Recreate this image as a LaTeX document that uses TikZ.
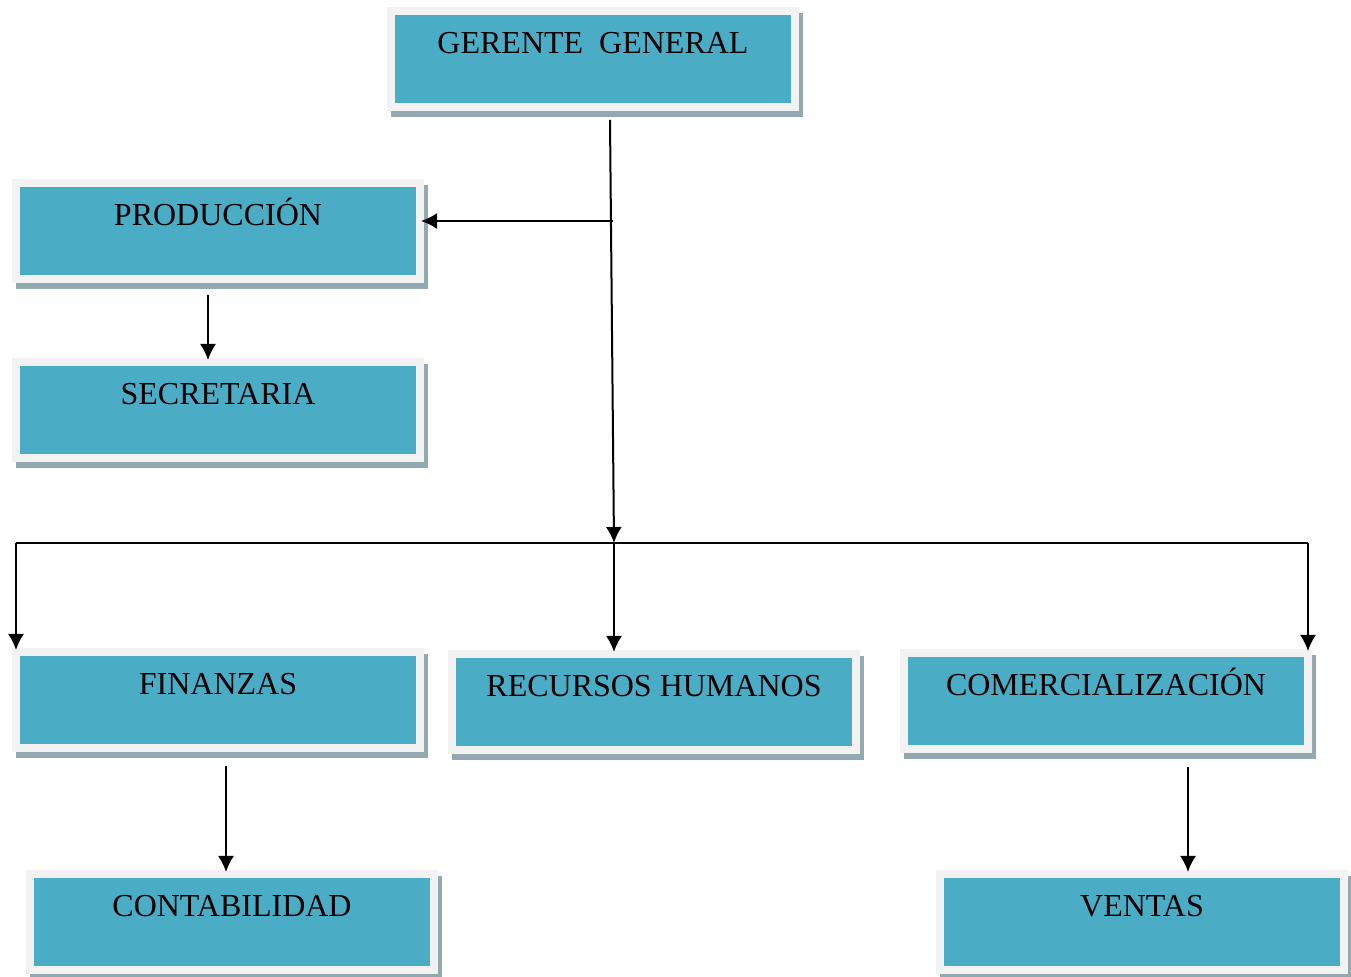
\documentclass[tikz,border=0pt]{standalone}
\usepackage{fontspec}
\setmainfont{Liberation Serif}
\usetikzlibrary{arrows.meta}
\definecolor{cajaazul}{HTML}{4BACC6}
\definecolor{marco}{HTML}{F2F2F2}
\definecolor{sombra}{HTML}{92A9B0}
\tikzset{
  area/.style={rectangle, fill=cajaazul, draw=marco, line width=4pt,
    minimum width=202pt, minimum height=48pt, inner sep=0pt,
    text height=8pt, text depth=13.5pt,
    font=\fontsize{16}{19}\selectfont,
    preaction={fill=sombra, draw=sombra, line width=4pt,
      transform canvas={shift={(1.75pt,-3pt)}}}},
  flecha/.style={line width=1pt, -{Latex[length=8pt,width=8pt]}}
}
\begin{document}
\begin{tikzpicture}[x=0.5pt,y=-0.5pt]
        \useasboundingbox (0,0) rectangle (1351,977);
        \node[area] (gerente) at (593,59) {GERENTE\ \ GENERAL};
        \node[area] (produccion) at (218,231) {PRODUCCIÓN};
        \node[area] (secretaria) at (218,410) {SECRETARIA};
        \node[area] (finanzas) at (218,700) {FINANZAS};
        \node[area] (recursos) at (654,702) {RECURSOS HUMANOS};
        \node[area] (comercial) at (1106,701) {COMERCIALIZACIÓN};
        \node[area] (contabilidad) at (232,922) {CONTABILIDAD};
        \node[area] (ventas) at (1142,922) {VENTAS};
        % puntos de la linea principal
        \coordinate (gbase) at (610,120);
        \coordinate (rama) at (613,221);
        \coordinate (hub) at (614,543);
        \coordinate (busl) at (16,543);
        \coordinate (busr) at (1308,543);
        \draw[flecha] (gbase) -- (hub);
        \draw[flecha] (rama) -- ([xshift=-1.5pt]rama -| produccion.east);
        \draw[flecha] ([xshift=-5pt,yshift=-6pt]produccion.south) -- ([xshift=-5pt,yshift=-1pt]secretaria.north);
        \draw[line width=0.9pt] (busl) -- (busr);
        \draw[flecha] (busl) -- ([yshift=-1pt]busl |- finanzas.north);
        \draw[flecha] (hub) -- ([yshift=-1pt]hub |- recursos.north);
        \draw[flecha] (busr) -- ([yshift=-1pt]busr |- comercial.north);
        \draw[flecha] ([xshift=4pt,yshift=-7pt]finanzas.south) -- ([xshift=-3pt,yshift=-1pt]contabilidad.north);
        \draw[flecha] ([xshift=41pt,yshift=-7pt]comercial.south) -- ([xshift=23pt,yshift=-1pt]ventas.north);
\end{tikzpicture}
\end{document}
